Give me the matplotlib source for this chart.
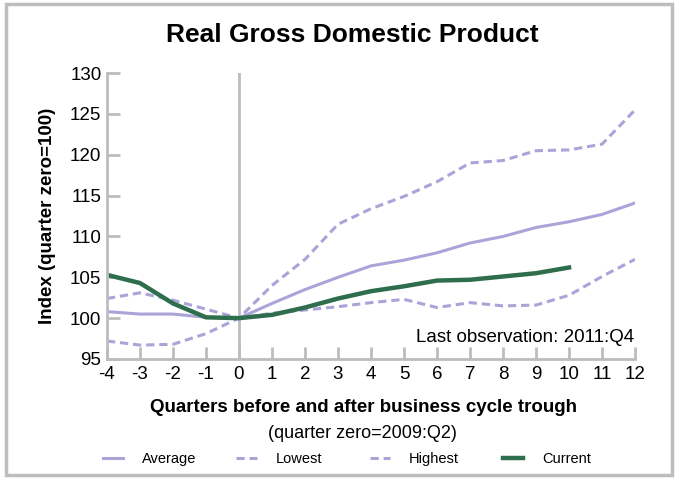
import matplotlib
matplotlib.use("Agg")
import matplotlib.pyplot as plt
from matplotlib.patches import Rectangle

plt.rcParams["font.family"] = ["Liberation Sans", "DejaVu Sans"]
plt.rcParams["axes.unicode_minus"] = False

# ── Data (index, quarter zero = 100) ───────────────────────────────────────
quarters = list(range(-4, 13))
average = [100.8, 100.5, 100.5, 100.1, 100.0, 101.8, 103.5, 105.0, 106.4,
           107.1, 108.0, 109.2, 110.0, 111.1, 111.8, 112.7, 114.1]
lowest = [102.4, 103.1, 102.2, 101.1, 100.0, 100.6, 101.0, 101.4, 101.9,
          102.3, 101.3, 101.9, 101.5, 101.6, 102.8, 105.1, 107.2]
highest = [97.2, 96.7, 96.8, 98.1, 100.0, 104.0, 107.2, 111.5, 113.4,
           114.9, 116.7, 119.0, 119.3, 120.5, 120.6, 121.3, 125.5]
current_q = list(range(-4, 11))
current = [105.3, 104.3, 101.8, 100.1, 100.0, 100.4, 101.3, 102.4, 103.3,
           103.9, 104.6, 104.7, 105.1, 105.5, 106.2]

PURPLE = "#aaa5d9"
GREEN = "#2e6e4c"
GRID = "#bdbdbd"
DASH = (0, (2.7, 1.6))

fig = plt.figure(figsize=(6.77, 4.78), dpi=100)
fig.patch.set_facecolor("white")
fig.patches.append(Rectangle((0.009, 0.006), 0.984, 0.985, transform=fig.transFigure,
                             fill=False, edgecolor=GRID, linewidth=2.5))

ax = fig.add_axes([0.158, 0.249, 0.780, 0.598])

ax.plot(quarters, average, color=PURPLE, lw=2.2, label="Average")
ax.plot(quarters, lowest, color=PURPLE, lw=2.2, ls=DASH, label="Lowest")
ax.plot(quarters, highest, color=PURPLE, lw=2.2, ls=DASH, label="Highest")
ax.plot(current_q, current, color=GREEN, lw=3.2, label="Current")
ax.axvline(0, color=GRID, lw=2, zorder=0)

ax.set_xlim(-4, 12)
ax.set_ylim(95, 130)
ax.set_xticks(quarters)
ax.set_yticks(range(95, 131, 5))
ax.tick_params(direction="in", length=9, width=2, color=GRID, labelsize=13.5, pad=4)
ax.tick_params(axis="x", pad=5)

for s in ["top", "right"]:
    ax.spines[s].set_visible(False)
for s in ["left", "bottom"]:
    ax.spines[s].set_color(GRID)
    ax.spines[s].set_linewidth(2)

ax.text(0.998, 0.075, "Last observation: 2011:Q4", transform=ax.transAxes,
        ha="right", va="center", fontsize=13.5)

ax.set_ylabel("Index (quarter zero=100)", fontsize=13.5, fontweight="bold", labelpad=10)
fig.text(0.52, 0.927, "Real Gross Domestic Product", ha="center", va="center",
         fontsize=19, fontweight="bold")
fig.text(0.537, 0.148, "Quarters before and after business cycle trough", ha="center",
         va="center", fontsize=13.5, fontweight="bold")
fig.text(0.536, 0.094, "(quarter zero=2009:Q2)", ha="center", va="center", fontsize=13)

# Legend: fixed-width columns, one small legend per entry
handles, labels = ax.get_legend_handles_labels()
legend_x = [0.152, 0.349, 0.546, 0.743]
for h, l, x in zip(handles, labels, legend_x):
    leg = fig.legend([h], [l], loc="center left", bbox_to_anchor=(x, 0.039),
                     frameon=False, fontsize=10.5, handlelength=1.4,
                     handletextpad=1.3, borderpad=0, borderaxespad=0)

plt.savefig("out.png", dpi=100)
